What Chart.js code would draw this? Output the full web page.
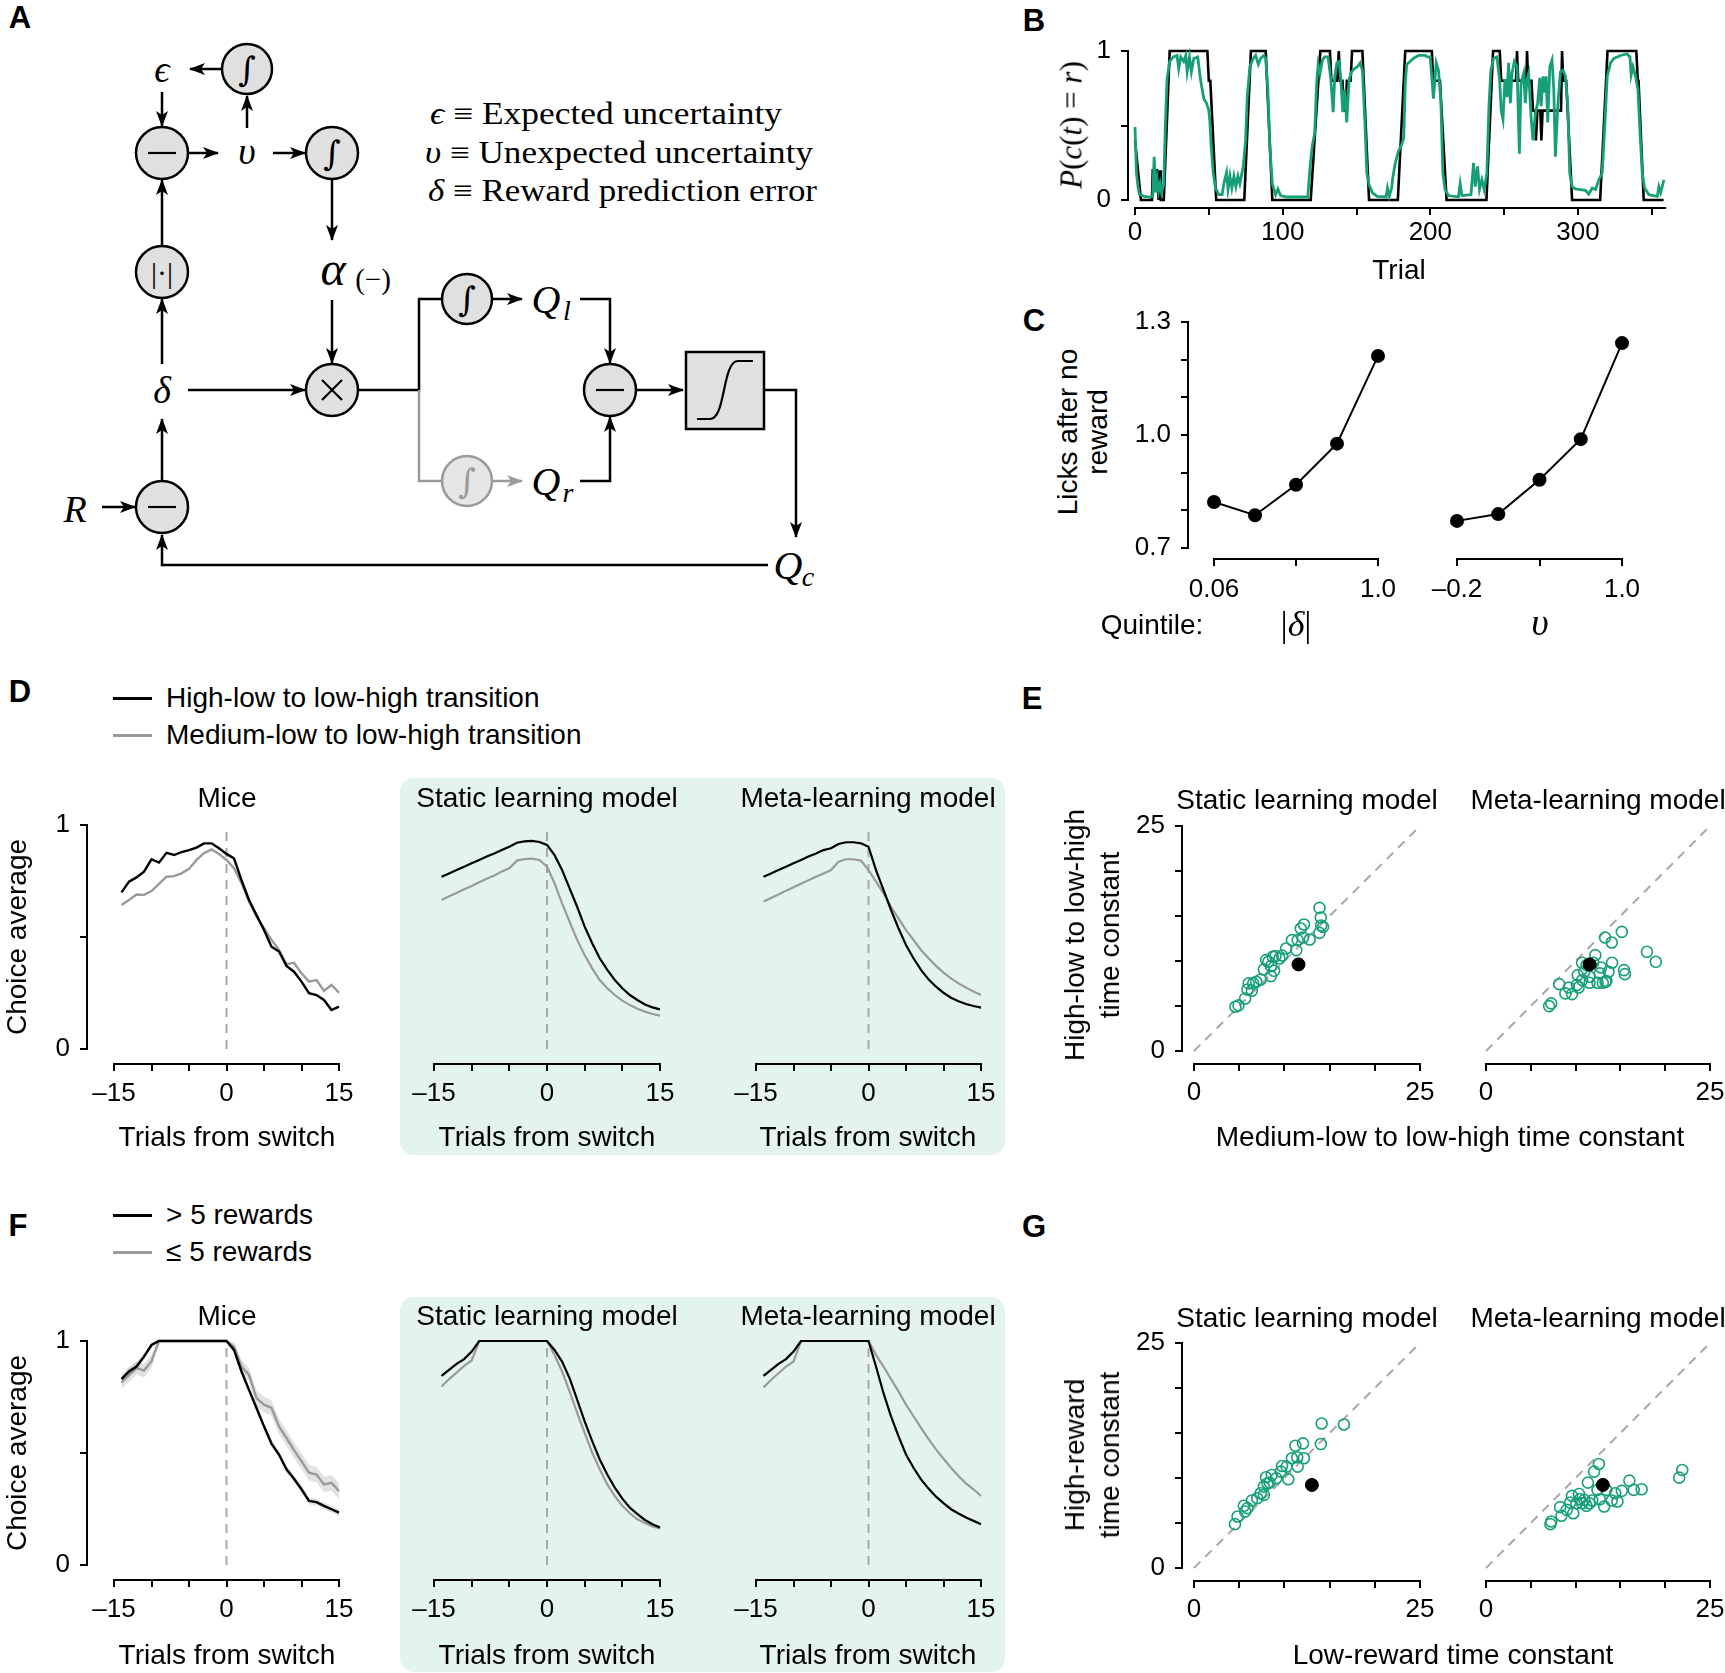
<!DOCTYPE html>
<html>
<head>
<meta charset="utf-8">
<script src="https://cdn.jsdelivr.net/npm/chart.js@4.4.0/dist/chart.umd.min.js"></script>
<style>
  body { margin: 0; background: #fff; width: 1725px; height: 1673px; position: relative; overflow: hidden;
         font-family: 'Liberation Sans', Arial, sans-serif; color: #000; }
  canvas { position: absolute; }
  .t { position: absolute; white-space: nowrap; transform: translate(-50%, -50%); font-size: 28px; line-height: 1; text-align: center; }
  .box { position: absolute; background: #e2f4ed; border-radius: 14px; }
  .m { font-family: 'Liberation Serif', 'DejaVu Serif', serif; font-style: italic; }
</style>
</head>
<body>
<div class="box" style="left:400px;top:778px;width:605px;height:377px"></div>
<div class="box" style="left:400px;top:1297px;width:605px;height:375px"></div>

<!-- panel A: model diagram -->
<svg style="position:absolute;left:0;top:0" width="840" height="600">
  <defs>
    <marker id="ah" markerUnits="userSpaceOnUse" markerWidth="16" markerHeight="12" refX="15" refY="6" orient="auto">
      <path d="M0,0 L16,6 L0,12 L4,6 z" fill="#000"/>
    </marker>
    <marker id="ahg" markerUnits="userSpaceOnUse" markerWidth="16" markerHeight="12" refX="15" refY="6" orient="auto">
      <path d="M0,0 L16,6 L0,12 L4,6 z" fill="#9a9a9a"/>
    </marker>
  </defs>
  <g stroke="#000" stroke-width="2.5" fill="none">
    <line x1="221" y1="69" x2="190" y2="69" marker-end="url(#ah)"/>
    <line x1="247" y1="128" x2="247" y2="96" marker-end="url(#ah)"/>
    <line x1="162" y1="92" x2="162" y2="126" marker-end="url(#ah)"/>
    <line x1="188" y1="153" x2="218" y2="153" marker-end="url(#ah)"/>
    <line x1="273" y1="153" x2="305" y2="153" marker-end="url(#ah)"/>
    <line x1="332" y1="179" x2="332" y2="240" marker-end="url(#ah)"/>
    <line x1="332" y1="300" x2="332" y2="363" marker-end="url(#ah)"/>
    <line x1="162" y1="246" x2="162" y2="180" marker-end="url(#ah)"/>
    <line x1="162" y1="364" x2="162" y2="299" marker-end="url(#ah)"/>
    <line x1="188" y1="390" x2="305" y2="390" marker-end="url(#ah)"/>
    <line x1="162" y1="482" x2="162" y2="419" marker-end="url(#ah)"/>
    <line x1="102" y1="507" x2="135" y2="507" marker-end="url(#ah)"/>
    <polyline points="358,390 419,390 419,299 442,299"/>
    <line x1="492" y1="299" x2="522" y2="299" marker-end="url(#ah)"/>
    <polyline points="580,299 610,299 610,363" marker-end="url(#ah)"/>
    <polyline points="580,481 610,481 610,417" marker-end="url(#ah)"/>
    <line x1="636" y1="390" x2="683" y2="390" marker-end="url(#ah)"/>
    <polyline points="764,390 796,390 796,537" marker-end="url(#ah)"/>
    <polyline points="768,565 162,565 162,535" marker-end="url(#ah)"/>
  </g>
  <g stroke="#9a9a9a" stroke-width="2.5" fill="none">
    <polyline points="419,390 419,481 442,481"/>
    <line x1="492" y1="481" x2="522" y2="481" marker-end="url(#ahg)"/>
  </g>
  <g fill="#e0e0e0" stroke="#000" stroke-width="2.5">
    <circle cx="247" cy="69" r="25"/>
    <circle cx="162" cy="153" r="26"/>
    <circle cx="332" cy="153" r="26"/>
    <circle cx="162" cy="272" r="26"/>
    <circle cx="332" cy="390" r="26"/>
    <circle cx="162" cy="507" r="26"/>
    <circle cx="467" cy="299" r="25"/>
    <circle cx="610" cy="390" r="26"/>
    <rect x="686" y="352" width="78" height="77"/>
  </g>
  <circle cx="467" cy="481" r="25" fill="#e6e6e6" stroke="#9a9a9a" stroke-width="2.5"/>
  <g stroke="#000" stroke-width="2.2" fill="none">
    <line x1="148" y1="153" x2="176" y2="153"/>
    <line x1="148" y1="507" x2="176" y2="507"/>
    <line x1="596" y1="390" x2="624" y2="390"/>
    <line x1="322" y1="380" x2="342" y2="400"/>
    <line x1="342" y1="380" x2="322" y2="400"/>
    <path d="M697,419 L710,419 C726,419 722,361 738,361 L753,361"/>
  </g>
  <g font-family="'DejaVu Serif', serif" font-size="34" text-anchor="middle" dominant-baseline="central">
    <text x="247" y="69">∫</text>
    <text x="332" y="153">∫</text>
    <text x="467" y="299">∫</text>
    <text x="467" y="481" fill="#9a9a9a">∫</text>
  </g>
  <text x="162" y="272" font-family="'Liberation Serif', serif" font-size="30" text-anchor="middle" dominant-baseline="central">|·|</text>
  <g font-family="'Liberation Serif', serif" font-style="italic" font-size="38" text-anchor="middle" dominant-baseline="central">
    <text x="162" y="69">ϵ</text>
    <text x="247" y="151">υ</text>
    <text x="162" y="390">δ</text>
    <text x="75" y="509">R</text>
    <text x="333" y="268" font-size="48">α</text>
    <text x="546" y="299" font-size="40">Q</text>
    <text x="546" y="481" font-size="40">Q</text>
    <text x="788" y="565" font-size="40">Q</text>
    <text x="567" y="310" font-size="28">l</text>
    <text x="568" y="492" font-size="28">r</text>
    <text x="808" y="576" font-size="28">c</text>
  </g>
  <text x="373" y="279" font-family="'Liberation Serif', serif" font-size="29" text-anchor="middle" dominant-baseline="central">(−)</text>
  <g font-family="'Liberation Serif', serif" font-size="31" dominant-baseline="central">
    <text x="430" y="113" textLength="352" lengthAdjust="spacingAndGlyphs"><tspan font-style="italic">ϵ</tspan> ≡ Expected uncertainty</text>
    <text x="425" y="152" textLength="388" lengthAdjust="spacingAndGlyphs"><tspan font-style="italic">υ</tspan> ≡ Unexpected uncertainty</text>
    <text x="428" y="190" textLength="389" lengthAdjust="spacingAndGlyphs"><tspan font-style="italic">δ</tspan> ≡ Reward prediction error</text>
  </g>
</svg>

<script>
// ---------- data ----------
// B: reward schedule (black) and model estimate (green), by trial
const trialTicks = [0, 50, 100, 150, 200, 250, 300, 350];
const trialTickLabels = ['0', '', '100', '', '200', '', '300', ''];
const bRewardT = [0,4,11.5,12,15,16,17,17.5,19.5,23.5,49,50,51,55,74,78.5,88.5,93,119,125.5,132,133,137,138,139,140.5,141.5,142.5,143.5,146,147,154,158.5,178,183,201,202,206.5,211,238,242.5,247,248,258,258.7,259.5,265,265.5,266.2,268.5,269.5,271,271.5,272.5,274.5,275.2,276,288.5,289.2,290,292,296,315,320,339.5,340.5,341,344.5,358];
const bRewardP = [0.4,0,0,0.2,0.2,0,0.2,0,0,1,1,0.8,0.8,0,0,1,1,0,0,1,1,0.8,0.8,1,0.8,0.8,0.6,0.6,0.8,0.8,1,1,0,0,1,1,0.8,0.8,0,0,1,1,0.8,0.8,1,0.8,0.8,1,0.8,0.8,0.6,0.6,0.4,0.6,0.6,0.4,0.6,0.6,1,0.8,0.8,0,0,1,1,0.8,0.8,0,0];
const bModelT = [0,1,2,3,6,10,12,13,14,15,16,17,18,19.5,20.6,21.7,23.5,26,28.5,29.6,31,33,34.4,35.3,36.9,38.2,39.8,42.5,44.3,46.6,48.4,50,50.7,51.6,53,54.5,56.8,59,60.2,62,63,64.3,65.6,67,68.3,69.7,71,73.3,74.9,76,77.8,80,81.7,83.5,85,87.3,88.5,90,91.4,93,95.2,96.8,98.6,103,117,118.6,120,121.7,123,124,125.3,127,128.5,130.8,132.6,134.2,135.3,136.7,138.2,139.4,140.7,142,143.4,145,146.6,148.4,150.7,152.5,154,155.7,157,158.6,160.9,164,170,171,172.2,173.8,174.4,176,178.3,180.5,182,183,184,186.3,188.5,192,196.5,198,199.9,202.1,204,205.5,207.1,208.5,210,212.3,219,220.2,221.4,227.5,229.3,230.4,232,233.3,234.9,236.5,238.3,239.7,241,242.8,245.1,246.9,248,249.2,250.5,251.9,253,254.2,255.3,256.9,258.7,260.3,261.4,263.2,264.3,265.5,266.6,268.2,269.5,271.1,272.7,274.1,275,276.3,277.2,278.4,279.5,280.9,282.4,283.6,284.7,286.3,288.1,289.9,291.5,293.1,294.4,296,298.3,301.7,305,307.3,309.6,311.9,314.1,316.4,318,319.8,322,324.3,328.8,333.3,335.2,336,337.2,339,340.6,342,343.5,345.1,348,353.7,354.8,356,358.2];
const bModelP = [0.49,0.18,0.09,0.04,0.025,0.02,0.025,0.29,0.05,0.14,0.06,0.11,0.05,0.11,0.52,0.81,0.93,0.96,0.97,0.88,0.96,0.93,0.97,0.86,0.96,0.86,0.95,0.96,0.81,0.68,0.65,0.60,0.53,0.36,0.18,0.08,0.036,0.036,0.11,0.185,0.07,0.16,0.08,0.16,0.09,0.16,0.11,0.225,0.40,0.69,0.895,0.95,0.97,0.91,0.95,0.97,0.95,0.74,0.34,0.11,0.036,0.074,0.03,0.02,0.02,0.225,0.36,0.45,0.78,0.91,0.85,0.94,0.96,0.96,0.81,0.59,0.83,0.92,0.93,0.81,0.59,0.74,0.52,0.81,0.86,0.88,0.895,0.92,0.87,0.52,0.18,0.10,0.047,0.025,0.02,0.08,0.025,0.08,0.136,0.237,0.326,0.37,0.42,0.78,0.91,0.93,0.95,0.97,0.97,0.96,0.96,0.68,0.92,0.87,0.67,0.18,0.07,0.03,0.02,0.11,0.03,0.036,0.25,0.09,0.225,0.07,0.136,0.07,0.18,0.63,0.87,0.95,0.96,0.81,0.60,0.54,0.81,0.69,0.92,0.65,0.85,0.93,0.895,0.31,0.78,0.85,0.65,0.81,0.85,0.56,0.40,0.58,0.65,0.82,0.63,0.83,0.72,0.83,0.52,0.895,0.94,0.74,0.29,0.63,0.86,0.87,0.83,0.63,0.18,0.09,0.074,0.07,0.065,0.04,0.08,0.07,0.136,0.18,0.47,0.83,0.92,0.95,0.97,0.98,0.96,0.84,0.895,0.83,0.74,0.45,0.18,0.08,0.036,0.025,0.09,0.05,0.136];

// C: licks after no reward by quintile
const quintile = [1, 2, 3, 4, 5];
const licksByDelta = [0.822, 0.787, 0.868, 0.977, 1.21];
const licksByUps = [0.772, 0.790, 0.881, 0.989, 1.244];

// D / F: choice average around the block switch
const trialsFromSwitch = [-14,-13,-12,-11,-10,-9,-8,-7,-6,-5,-4,-3,-2,-1,0,1,2,3,4,5,6,7,8,9,10,11,12,13,14,15];
const switchTicks = [-15, -10, -5, 0, 5, 10, 15];
const dMiceHigh = [0.699,0.747,0.766,0.792,0.847,0.832,0.876,0.866,0.879,0.888,0.899,0.918,0.918,0.896,0.871,0.851,0.754,0.665,0.598,0.531,0.457,0.435,0.371,0.345,0.301,0.249,0.241,0.219,0.174,0.189];
const dMiceMed = [0.643,0.665,0.690,0.688,0.705,0.737,0.769,0.772,0.784,0.804,0.844,0.874,0.891,0.871,0.844,0.807,0.740,0.658,0.591,0.539,0.487,0.442,0.379,0.385,0.338,0.301,0.308,0.260,0.286,0.251];
const dStaticHigh = [0.769,0.784,0.799,0.814,0.829,0.844,0.859,0.873,0.888,0.903,0.921,0.927,0.929,0.924,0.911,0.866,0.799,0.717,0.635,0.546,0.472,0.405,0.353,0.308,0.271,0.241,0.219,0.199,0.186,0.177];
const dStaticMed = [0.665,0.682,0.696,0.713,0.728,0.744,0.760,0.775,0.792,0.807,0.841,0.848,0.850,0.844,0.814,0.740,0.650,0.568,0.487,0.420,0.360,0.308,0.271,0.241,0.216,0.196,0.180,0.167,0.156,0.149];
const dMetaHigh = [0.769,0.784,0.799,0.814,0.829,0.844,0.859,0.873,0.888,0.896,0.915,0.923,0.923,0.918,0.903,0.799,0.710,0.621,0.539,0.464,0.405,0.353,0.311,0.278,0.251,0.229,0.213,0.201,0.192,0.185];
const dMetaMed = [0.658,0.674,0.690,0.707,0.722,0.738,0.753,0.769,0.784,0.799,0.836,0.847,0.847,0.841,0.799,0.747,0.695,0.635,0.583,0.531,0.487,0.442,0.405,0.371,0.341,0.315,0.293,0.274,0.257,0.241];

const fMiceMore = [0.830,0.864,0.886,0.930,0.982,1,1,1,1,1,1,1,1,1,1,0.960,0.864,0.782,0.701,0.619,0.542,0.493,0.427,0.385,0.338,0.286,0.281,0.264,0.249,0.234];
const fMiceMoreSem = [0.02,0.02,0.02,0.015,0.01,0,0,0,0,0,0,0,0,0,0,0.01,0.015,0.015,0.015,0.015,0.015,0.015,0.015,0.015,0.015,0.015,0.015,0.015,0.015,0.015];
const fMiceLess = [0.815,0.848,0.880,0.868,0.910,1,1,1,1,1,1,1,1,1,1,0.975,0.886,0.849,0.745,0.716,0.701,0.619,0.567,0.513,0.464,0.412,0.404,0.360,0.367,0.330];
const fMiceLessSem = [0.03,0.03,0.03,0.03,0.03,0,0,0,0,0,0,0,0,0,0,0.02,0.03,0.03,0.035,0.035,0.035,0.035,0.035,0.035,0.035,0.035,0.035,0.035,0.035,0.035];
const fStaticMore = [0.844,0.871,0.898,0.919,0.953,1,1,1,1,1,1,1,1,1,1,0.960,0.908,0.834,0.738,0.641,0.553,0.471,0.404,0.345,0.296,0.256,0.227,0.201,0.182,0.167];
const fStaticLess = [0.797,0.830,0.859,0.889,0.913,1,1,1,1,1,1,1,1,1,1,0.938,0.864,0.775,0.679,0.590,0.501,0.427,0.360,0.308,0.264,0.231,0.204,0.187,0.172,0.163];
const fMetaMore = [0.844,0.871,0.898,0.919,0.953,1,1,1,1,1,1,1,1,1,1,0.886,0.767,0.664,0.575,0.493,0.434,0.382,0.341,0.305,0.276,0.249,0.230,0.212,0.197,0.182];
const fMetaLess = [0.793,0.826,0.856,0.886,0.908,1,1,1,1,1,1,1,1,1,1,0.938,0.886,0.830,0.775,0.716,0.664,0.612,0.563,0.516,0.474,0.434,0.397,0.364,0.338,0.308];

// E / G: time constants (model fits, green) and mice (black)
const tauTicks = [0, 5, 10, 15, 20, 25];
const eStaticX = [4.58,4.92,5.66,5.91,6.40,6.55,6.89,7.38,7.73,8.22,8.51,8.71,9.01,8.51,8.86,9.45,9.74,10.19,10.83,11.32,11.47,11.81,12.16,12.06,12.80,13.88,14.03,14.27,13.88,6.05,7.97,14.07];
const eStaticY = [4.92,5.07,5.84,6.84,6.69,7.51,7.69,7.95,9.06,9.91,9.43,10.47,10.54,8.32,8.91,10.28,10.61,11.39,12.32,11.21,12.32,13.61,14.05,12.61,12.39,15.90,14.83,13.79,13.13,7.51,10.10,13.94];
const eMetaX = [7.04,7.28,8.17,8.86,9.25,9.60,10.14,10.33,10.24,10.73,10.97,11.22,11.56,11.96,12.20,12.45,12.70,12.84,13.04,13.34,13.43,13.68,14.07,13.29,14.03,15.16,15.40,15.50,17.96,18.95,10.73,11.56];
const eMetaY = [4.99,5.29,7.43,6.40,7.06,6.32,7.32,7.06,8.43,7.88,8.80,9.54,7.58,9.80,10.65,7.58,8.62,9.28,7.58,7.69,7.77,8.80,9.80,12.61,12.06,13.24,8.99,8.54,11.02,9.91,9.80,8.25];
const eMice = [11.56, 9.62];
const gStaticX = [4.53,4.82,5.66,5.91,5.51,6.40,6.99,7.38,7.73,8.12,7.97,8.61,9.10,9.60,9.74,10.24,10.43,10.83,11.42,11.47,12.16,11.22,12.06,14.03,14.12,16.58,7.73,8.37];
const gStaticY = [4.87,5.72,6.28,6.65,6.91,7.50,7.75,8.31,9.05,9.42,10.08,10.34,9.97,10.71,11.34,11.26,9.86,12.19,12.30,11.26,12.19,13.59,13.85,13.77,16.06,15.95,8.12,9.49];
const gMetaX = [7.19,7.28,8.42,8.27,9.01,9.40,9.60,9.74,10.38,10.73,10.97,11.22,11.56,11.86,11.37,12.06,12.60,12.45,12.70,13.19,13.43,14.03,14.42,14.67,15.16,16.00,16.49,17.37,21.56,21.90,10.48,10.09];
const gMetaY = [4.87,5.17,5.80,6.76,6.46,7.27,8.01,6.09,8.23,7.20,7.57,6.91,7.20,7.50,9.49,10.71,11.56,8.68,7.64,6.83,8.68,7.50,8.31,7.39,8.57,9.71,8.68,8.75,10.04,10.89,7.64,7.20];
const gMice = [13.04, 9.23];

// ---------- drawing ----------
const FONT = "'Liberation Sans', Arial, sans-serif";
const GREEN = '#17a078';
const GREY = '#9a9a9a';
Chart.defaults.font.family = FONT;
Chart.defaults.color = '#000';

const WY = 70, HX = 62, PT = 40, PR = 40;

// matplotlib-style detached axes: spine runs only between the given values
const spinePlugin = {
  id: 'spines',
  afterDraw(chart, args, opts) {
    const { ctx, chartArea, scales } = chart;
    ctx.save();
    ctx.strokeStyle = '#000';
    ctx.lineWidth = 2;
    if (opts.x) {
      const y = chartArea.bottom + 1;
      ctx.beginPath();
      ctx.moveTo(scales.x.getPixelForValue(opts.x[0]) - 1, y);
      ctx.lineTo(scales.x.getPixelForValue(opts.x[1]) + 1, y);
      ctx.stroke();
    }
    if (opts.y) {
      const x = chartArea.left - 1;
      ctx.beginPath();
      ctx.moveTo(x, scales.y.getPixelForValue(opts.y[0]) + 1);
      ctx.lineTo(x, scales.y.getPixelForValue(opts.y[1]) - 1);
      ctx.stroke();
    }
    ctx.restore();
  }
};

function pts(xs, ys) {
  return xs.map((x, i) => ({ x: x, y: ys[i] }));
}

function line(xs, ys, color, width, order) {
  return { data: pts(xs, ys), borderColor: color, borderWidth: width, pointRadius: 0, fill: false, tension: 0, order: order };
}

function dashed(data) {
  return { data: data, borderColor: '#a8a8a8', borderWidth: 2, borderDash: [9, 7], pointRadius: 0, fill: false, order: 9 };
}

// o.x / o.y: [value, pixel, value, pixel] pairs that pin the data scale to page pixels
function panel(o) {
  const kx = (o.x[3] - o.x[1]) / (o.x[2] - o.x[0]);
  const ky = (o.y[3] - o.y[1]) / (o.y[2] - o.y[0]);
  const xmin = o.x[0] - (o.x[1] - o.spineX) / kx;
  const xmax = o.x[0] + (o.right - o.x[1]) / kx;
  const ymin = o.y[0] + (o.spineY - o.y[1]) / ky;
  const ymax = o.y[0] + (o.top - o.y[1]) / ky;

  const cv = document.createElement('canvas');
  cv.width = WY + (o.right - o.spineX) + PR;
  cv.height = PT + (o.spineY - o.top) + HX;
  cv.style.left = (o.spineX - WY) + 'px';
  cv.style.top = (o.top - PT) + 'px';
  document.body.appendChild(cv);

  const tickFont = { family: FONT, size: 26 };
  const showY = !!o.yTicks;
  return new Chart(cv, {
    type: o.type || 'line',
    data: { datasets: o.datasets },
    options: {
      responsive: false,
      devicePixelRatio: 1,
      animation: false,
      layout: { padding: { left: 0, right: PR, top: PT, bottom: 0 } },
      plugins: {
        legend: { display: false },
        tooltip: { enabled: false },
        spines: { x: o.xSpine, y: showY ? o.ySpine : null }
      },
      scales: {
        x: {
          type: 'linear', min: xmin, max: xmax,
          afterFit: s => { s.height = HX; },
          afterBuildTicks: s => { s.ticks = o.xTicks.map(v => ({ value: v })); },
          ticks: { autoSkip: false, maxRotation: 0, font: tickFont, color: '#000', padding: o.xPad,
                   callback: (v, i) => o.xLabels[i] },
          grid: { drawOnChartArea: false, drawTicks: true, tickLength: 8, color: '#000', lineWidth: 2 },
          border: { display: false }
        },
        y: showY ? {
          type: 'linear', min: ymin, max: ymax,
          afterFit: s => { s.width = WY; },
          afterBuildTicks: s => { s.ticks = o.yTicks.map(v => ({ value: v })); },
          ticks: { autoSkip: false, font: tickFont, color: '#000', padding: o.yPad,
                   callback: (v, i) => o.yLabels[i] },
          grid: { drawOnChartArea: false, drawTicks: true, tickLength: 8, color: '#000', lineWidth: 2 },
          border: { display: false }
        } : {
          type: 'linear', min: ymin, max: ymax,
          afterFit: s => { s.width = WY; },
          ticks: { display: false },
          grid: { display: false },
          border: { display: false }
        }
      }
    },
    plugins: [spinePlugin]
  });
}

function text(html, x, y, style) {
  const d = document.createElement('div');
  d.className = 't';
  d.innerHTML = html;
  d.style.left = x + 'px';
  d.style.top = y + 'px';
  if (style) Object.assign(d.style, style);
  document.body.appendChild(d);
}
const ROT = { transform: 'translate(-50%, -50%) rotate(-90deg)' };

// ---- B ----
panel({
  spineX: 1129, spineY: 207, top: 46, right: 1668,
  x: [0, 1135, 300, 1578], y: [0, 200, 1, 51],
  xTicks: trialTicks, xLabels: trialTickLabels, xSpine: [0, 359], xPad: 2,
  yTicks: [0, 0.5, 1], yLabels: ['0', '', '1'], ySpine: [0, 1], yPad: 10,
  datasets: [
    line(bModelT, bModelP, GREEN, 2.8, 0),
    line(bRewardT, bRewardP, '#000', 2.6, 1)
  ]
});

// ---- C ----
function licks(values) {
  return { data: pts(quintile, values), borderColor: '#000', borderWidth: 2, pointRadius: 6,
           pointBackgroundColor: '#000', pointBorderColor: '#000', fill: false, tension: 0 };
}
panel({
  spineX: 1189, spineY: 558, top: 312, right: 1392,
  x: [1, 1214, 5, 1378], y: [0.7, 548, 1.3, 322],
  xTicks: [1, 3, 5], xLabels: ['0.06', '', '1.0'], xSpine: [1, 5], xPad: 8,
  yTicks: [0.7, 0.8, 0.9, 1.0, 1.1, 1.2, 1.3], yLabels: ['0.7', '', '', '1.0', '', '', '1.3'], ySpine: [0.7, 1.3], yPad: 10,
  datasets: [licks(licksByDelta)]
});
panel({
  spineX: 1440, spineY: 558, top: 312, right: 1636,
  x: [1, 1457, 5, 1622], y: [0.7, 548, 1.3, 322],
  xTicks: [1, 3, 5], xLabels: ['–0.2', '', '1.0'], xSpine: [1, 5], xPad: 8,
  datasets: [licks(licksByUps)]
});

// ---- D and F ----
const switchLabels = ['–15', '', '', '0', '', '', '15'];
function switchPanel(spineX, right, px15, px15b, y0, y1, withY, datasets) {
  return panel({
    spineX: spineX, spineY: y0 + 14, top: y1 - 10, right: right,
    x: [-15, px15, 15, px15b], y: [0, y0, 1, y1],
    xTicks: switchTicks, xLabels: switchLabels, xSpine: [-15, 15], xPad: 7,
    yTicks: withY ? [0, 0.5, 1] : null, yLabels: ['0', '', '1'], ySpine: [0, 1], yPad: 10,
    datasets: datasets.concat([dashed([{ x: 0, y: 0 }, { x: 0, y: 1 }])])
  });
}
function band(mean, sem) {
  const hi = mean.map((v, i) => v + sem[i]);
  const lo = mean.map((v, i) => v - sem[i]);
  return [
    { data: pts(trialsFromSwitch, hi), borderWidth: 0, pointRadius: 0, fill: false, order: 8 },
    { data: pts(trialsFromSwitch, lo), borderWidth: 0, pointRadius: 0, fill: '-1',
      backgroundColor: 'rgba(140,140,140,0.25)', order: 8 }
  ];
}

switchPanel(88, 350, 114, 339, 1049, 825, true, [
  line(trialsFromSwitch, dMiceHigh, '#000', 2.4, 0),
  line(trialsFromSwitch, dMiceMed, GREY, 2.4, 1)
]);
switchPanel(420, 672, 434, 660, 1049, 825, false, [
  line(trialsFromSwitch, dStaticHigh, '#000', 2.2, 0),
  line(trialsFromSwitch, dStaticMed, GREY, 2.2, 1)
]);
switchPanel(742, 994, 756, 981, 1049, 825, false, [
  line(trialsFromSwitch, dMetaHigh, '#000', 2.2, 0),
  line(trialsFromSwitch, dMetaMed, GREY, 2.2, 1)
]);

switchPanel(88, 350, 114, 339, 1565, 1341, true, [
  line(trialsFromSwitch, fMiceMore, '#000', 2.4, 0),
  line(trialsFromSwitch, fMiceLess, GREY, 2.4, 1)
].concat(band(fMiceMore, fMiceMoreSem), band(fMiceLess, fMiceLessSem)));
switchPanel(420, 672, 434, 660, 1565, 1341, false, [
  line(trialsFromSwitch, fStaticMore, '#000', 2.2, 0),
  line(trialsFromSwitch, fStaticLess, GREY, 2.2, 1)
]);
switchPanel(742, 994, 756, 981, 1565, 1341, false, [
  line(trialsFromSwitch, fMetaMore, '#000', 2.2, 0),
  line(trialsFromSwitch, fMetaLess, GREY, 2.2, 1)
]);

// ---- E and G ----
const tauLabels = ['0', '', '', '', '', '25'];
function tauPanel(spineX, right, px0, px25, y0, y25, withY, xs, ys, mice) {
  return panel({
    type: 'scatter',
    spineX: spineX, spineY: y0 + 12, top: y25 - 10, right: right,
    x: [0, px0, 25, px25], y: [0, y0, 25, y25],
    xTicks: tauTicks, xLabels: tauLabels, xSpine: [0, 25], xPad: 6,
    yTicks: withY ? tauTicks : null, yLabels: tauLabels, ySpine: [0, 25], yPad: 10,
    datasets: [
      { data: [{ x: mice[0], y: mice[1] }], pointRadius: 6.5, pointBackgroundColor: '#000', pointBorderColor: '#000', order: 0 },
      { data: pts(xs, ys), pointRadius: 5.5, pointBorderWidth: 1.6, pointBorderColor: GREEN,
        pointBackgroundColor: 'rgba(255,255,255,0)', order: 1 },
      Object.assign(dashed([{ x: 0, y: 0 }, { x: 25, y: 25 }]), { showLine: true })
    ]
  });
}
tauPanel(1183, 1432, 1194, 1420, 1051, 826, true, eStaticX, eStaticY, eMice);
tauPanel(1472, 1722, 1486, 1710, 1051, 826, false, eMetaX, eMetaY, eMice);
tauPanel(1183, 1432, 1194, 1420, 1568, 1343, true, gStaticX, gStaticY, gMice);
tauPanel(1472, 1722, 1486, 1710, 1568, 1343, false, gMetaX, gMetaY, gMice);

// ---------- text ----------
const bold = { fontWeight: 'bold', fontSize: '31px' };
text('A', 20, 17, bold);
text('B', 1034, 20, bold);
text('C', 1034, 320, bold);
text('D', 20, 691, bold);
text('E', 1032, 698, bold);
text('F', 18, 1225, bold);
text('G', 1034, 1226, bold);

// B
text('Trial', 1399, 270);
text('<span class="m">P</span>(<span class="m">c</span>(<span class="m">t</span>) = <span class="m">r</span>)', 1071, 125,
     Object.assign({ fontFamily: "'Liberation Serif', serif", fontSize: '31px' }, ROT));
// C
text('Licks after no<br>reward', 1083, 432, Object.assign({ lineHeight: '30px' }, ROT));
text('Quintile:', 1152, 625);
text('|<span class="m">δ</span>|', 1296, 624, { fontFamily: "'Liberation Serif', serif", fontSize: '36px' });
text('<span class="m">υ</span>', 1540, 622, { fontSize: '38px' });

// D and F
function legend(y, a, b) {
  const mk = (yy, c) => {
    const l = document.createElement('div');
    l.style.cssText = 'position:absolute;left:113px;width:39px;height:2.5px;background:' + c + ';top:' + (yy - 1) + 'px';
    document.body.appendChild(l);
  };
  mk(y, '#000');
  mk(y + 37, GREY);
  text(a, 166, y, { transform: 'translate(0, -50%)' });
  text(b, 166, y + 37, { transform: 'translate(0, -50%)' });
}
legend(698, 'High-low to low-high transition', 'Medium-low to low-high transition');
legend(1215, '&gt; 5 rewards', '≤ 5 rewards');

[798, 1316].forEach(ty => {
  text('Mice', 227, ty);
  text('Static learning model', 547, ty);
  text('Meta-learning model', 868, ty);
});
[1137, 1655].forEach(ty => {
  text('Trials from switch', 227, ty);
  text('Trials from switch', 547, ty);
  text('Trials from switch', 868, ty);
});
text('Choice average', 17, 937, ROT);
text('Choice average', 17, 1453, ROT);

// E and G
[800, 1318].forEach(ty => {
  text('Static learning model', 1307, ty);
  text('Meta-learning model', 1598, ty);
});
text('High-low to low-high<br>time constant', 1092, 935, Object.assign({ lineHeight: '35px' }, ROT));
text('Medium-low to low-high time constant', 1450, 1137);
text('High-reward<br>time constant', 1092, 1455, Object.assign({ lineHeight: '35px' }, ROT));
text('Low-reward time constant', 1453, 1655);
</script>
</body>
</html>
